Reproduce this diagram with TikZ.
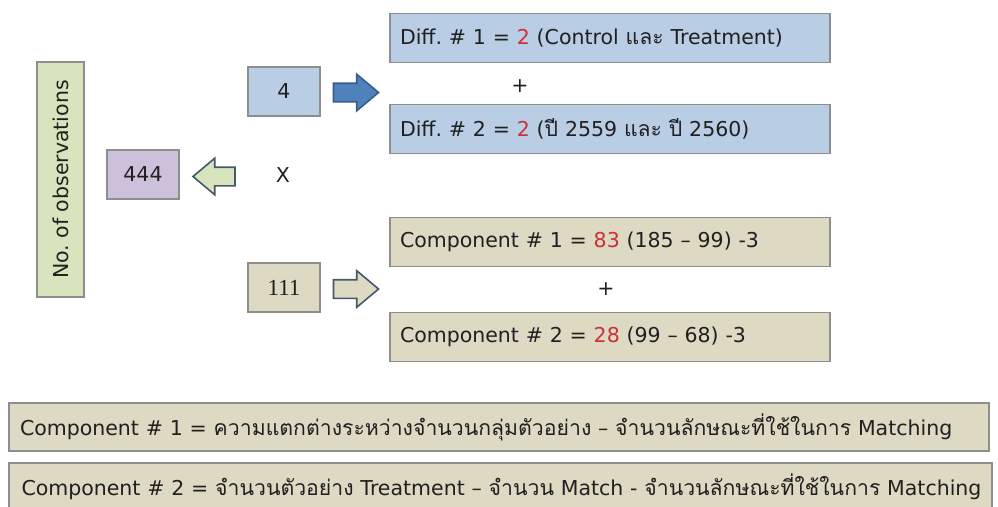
\documentclass[tikz,border=0pt]{standalone}
\usepackage{fontspec}
\setmainfont{DejaVu Sans}
\newfontfamily\thaifont[Script=Thai,Scale=1.035]{Loma}
\newfontfamily\numfont{Liberation Serif}
\usetikzlibrary{shapes.arrows}

\definecolor{boxline}{HTML}{8E8E8E}
\definecolor{arrline}{HTML}{44596A}
\definecolor{bluefill}{HTML}{B9CDE5}
\definecolor{tanfill}{HTML}{DDD9C3}
\definecolor{greenfill}{HTML}{D7E4BD}
\definecolor{purplefill}{HTML}{CCC0DA}
\definecolor{bluearr}{HTML}{4F81BD}
\definecolor{bluearrline}{HTML}{385D8A}
\definecolor{numred}{HTML}{C8323A}
\definecolor{txt}{HTML}{202020}

\newcommand{\thai}[1]{{\thaifont #1}}
\newcommand{\rn}[1]{\textcolor{numred}{#1}}
\frenchspacing

\begin{document}
\begin{tikzpicture}[x=1pt,y=-1pt,
    every node/.style={text=txt,font=\fontsize{20.5}{24}\selectfont},
    box/.style={draw=boxline,line width=1.2pt,inner sep=0pt},
    smallbox/.style={box,minimum width=72pt,minimum height=49pt},
    wide/.style={box,minimum width=440pt,minimum height=49pt,
      text width=420pt,align=left,inner xsep=10pt},
    note/.style={box,fill=tanfill,minimum width=980pt,minimum height=48pt,
      text width=958pt,align=left,inner xsep=11pt},
    blockarr/.style={single arrow,inner sep=0pt,text height=17pt,text depth=0pt,
      minimum height=45pt,single arrow head extend=9pt,single arrow tip angle=80,
      line width=1.6pt}]
  \useasboundingbox (0,0) rectangle (998,506);

  % left column
  \draw (60.5,179.5) node[box,fill=greenfill,minimum width=47pt,minimum height=235pt] (obs) {};
  \draw (obs.center) node[rotate=90] (obslabel) {No. of observations};
  \draw (143,174.5) node[smallbox,fill=purplefill] (total) {444};
  \draw (219.5,176.5) node[blockarr,shape border rotate=180,fill=greenfill,draw=arrline,
    minimum height=42pt] (back) {};
  \draw (283,175) node (times) {X};

  % the two factors
  \draw (284,91.5) node[smallbox,fill=bluefill] (four) {4};
  \draw (350.5,92.5) node[blockarr,fill=bluearr,draw=bluearrline] (toDiff) {};
  \draw (284,287.5) node[smallbox,fill=tanfill] (oneoneone) {\numfont\fontsize{23}{26}\selectfont 111};
  \draw (350.5,289) node[blockarr,fill=tanfill,draw=arrline] (toComp) {};

  % Diff. boxes
  \draw (610,38) node[wide,fill=bluefill] (diffA)
    {Diff. \# 1 = \rn{2} (Control \thai{และ} Treatment)};
  \draw (520,86) node (plusA) {+};
  \draw (610,129) node[wide,fill=bluefill] (diffB)
    {Diff. \# 2 = \rn{2} (\thai{ปี} 2559 \thai{และ} \thai{ปี} 2560)};

  % Component boxes
  \draw (610,242) node[wide,fill=tanfill] (compA)
    {Component \# 1 = \rn{83} (185 -- 99) -3};
  \draw (606,289) node (plusB) {+};
  \draw (610,337) node[wide,fill=tanfill] (compB)
    {Component \# 2 = \rn{28} (99 -- 68) -3};

  % definitions at the bottom (kept on one line)
  \draw (499,427) node[note] (defA)
    {\mbox{Component \# 1 = \thai{ความแตกต่างระหว่างจำนวนกลุ่มตัวอย่าง} -- \thai{จำนวนลักษณะที่ใช้ในการ} Matching}};
  \draw (500.5,487) node[note,minimum width=983pt] (defB)
    {\mbox{Component \# 2 = \thai{จำนวนตัวอย่าง} Treatment -- \thai{จำนวน} Match - \thai{จำนวนลักษณะที่ใช้ในการ} Matching}};
\end{tikzpicture}
\end{document}
